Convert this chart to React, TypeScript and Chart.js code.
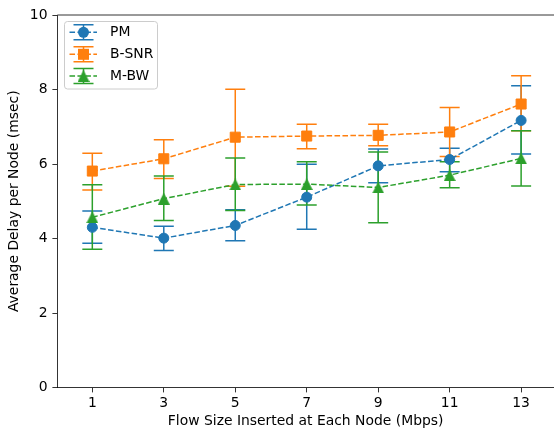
import React, { useEffect, useRef } from "react";
import { Chart, registerables } from "chart.js";

Chart.register(...registerables);

// ---- data ----
const flowSizes = [1, 3, 5, 7, 9, 11, 13];
const xTickValues = [1, 3, 5, 7, 9, 11, 13];
const yTickStep = 2;

const seriesLabels = ["PM", "B-SNR", "M-BW"];
const seriesColors = ["#1f77b4", "#ff7f0e", "#2ca02c"];

const pmMean = [4.3, 4.01, 4.35, 5.11, 5.95, 6.12, 7.17];
const pmLow = [3.87, 3.68, 3.94, 4.25, 5.5, 5.79, 6.27];
const pmHigh = [4.74, 4.33, 4.77, 5.99, 6.4, 6.42, 8.1];

const bsnrMean = [5.81, 6.14, 6.72, 6.75, 6.77, 6.86, 7.61];
const bsnrLow = [5.3, 5.61, 5.4, 6.41, 6.49, 6.2, 6.89];
const bsnrHigh = [6.29, 6.65, 8.01, 7.07, 7.07, 7.52, 8.37];

const mbwMean = [4.57, 5.07, 5.45, 5.46, 5.37, 5.7, 6.15];
const mbwLow = [3.71, 4.48, 4.75, 4.9, 4.42, 5.36, 5.41];
const mbwHigh = [5.44, 5.68, 6.16, 6.06, 6.32, 6.06, 6.89];

const xTitle = "Flow Size Inserted at Each Node (Mbps)";
const yTitle = "Average Delay per Node (msec)";

const FONT = "'DejaVu Sans', 'Liberation Sans', sans-serif";
const FONT_SIZE = 13.9;
const CAP = 10;
const DASH = [5.55, 2.4];

function makeTriangle(color: string, size: number) {
  const c = document.createElement("canvas");
  c.width = size;
  c.height = size;
  const g = c.getContext("2d")!;
  g.fillStyle = color;
  g.beginPath();
  g.moveTo(size / 2, 0);
  g.lineTo(size, size);
  g.lineTo(0, size);
  g.closePath();
  g.fill();
  return c;
}

const errorBarPlugin = {
  id: "errorBars",
  beforeDatasetsDraw(chart: any, _args: any, opts: any) {
    const ctx = chart.ctx;
    const xs = chart.scales.x;
    const ys = chart.scales.y;
    (opts.series || []).forEach((s: any) => {
      ctx.save();
      ctx.strokeStyle = s.color;
      ctx.lineWidth = 1.5;
      ctx.setLineDash([]);
      s.x.forEach((xv: number, j: number) => {
        const x = xs.getPixelForValue(xv);
        const yl = ys.getPixelForValue(s.low[j]);
        const yh = ys.getPixelForValue(s.high[j]);
        ctx.beginPath();
        ctx.moveTo(x, yl);
        ctx.lineTo(x, yh);
        ctx.moveTo(x - CAP, yl);
        ctx.lineTo(x + CAP, yl);
        ctx.moveTo(x - CAP, yh);
        ctx.lineTo(x + CAP, yh);
        ctx.stroke();
      });
      ctx.restore();
    });
  },
  afterDraw(chart: any) {
    const ctx = chart.ctx;
    const a = chart.chartArea;
    ctx.save();
    ctx.strokeStyle = "#000";
    ctx.lineWidth = 0.8;
    ctx.beginPath();
    ctx.moveTo(a.left, a.top);
    ctx.lineTo(a.right, a.top);
    ctx.stroke();
    ctx.restore();
  },
};

const legendPlugin = {
  id: "mplLegend",
  afterDraw(chart: any, _args: any, opts: any) {
    const ctx = chart.ctx;
    const bx = 64.5, by = 21.5, bw = 93, bh = 67.5, r = 3;
    ctx.save();
    ctx.beginPath();
    ctx.moveTo(bx + r, by);
    ctx.lineTo(bx + bw - r, by);
    ctx.quadraticCurveTo(bx + bw, by, bx + bw, by + r);
    ctx.lineTo(bx + bw, by + bh - r);
    ctx.quadraticCurveTo(bx + bw, by + bh, bx + bw - r, by + bh);
    ctx.lineTo(bx + r, by + bh);
    ctx.quadraticCurveTo(bx, by + bh, bx, by + bh - r);
    ctx.lineTo(bx, by + r);
    ctx.quadraticCurveTo(bx, by, bx + r, by);
    ctx.closePath();
    ctx.fillStyle = "rgba(255,255,255,0.8)";
    ctx.fill();
    ctx.strokeStyle = "#cccccc";
    ctx.lineWidth = 1;
    ctx.stroke();

    const rowYs = [32.3, 54.3, 76];
    chart.data.datasets.forEach((ds: any, i: number) => {
      const cy = rowYs[i];
      const cx = 83.5;
      const color = ds.borderColor;
      ctx.strokeStyle = color;
      ctx.lineWidth = 1.5;
      ctx.setLineDash(DASH);
      ctx.beginPath();
      ctx.moveTo(69.5, cy);
      ctx.lineTo(97, cy);
      ctx.stroke();
      ctx.setLineDash([]);
      ctx.beginPath();
      ctx.moveTo(cx, cy - 7.5);
      ctx.lineTo(cx, cy + 7.5);
      ctx.moveTo(cx - CAP, cy - 7.5);
      ctx.lineTo(cx + CAP, cy - 7.5);
      ctx.moveTo(cx - CAP, cy + 7.5);
      ctx.lineTo(cx + CAP, cy + 7.5);
      ctx.stroke();
      ctx.fillStyle = color;
      const m = opts.markers[i];
      if (m === "circle") {
        ctx.beginPath();
        ctx.arc(cx, cy, 5.5, 0, Math.PI * 2);
        ctx.fill();
      } else if (m === "rect") {
        ctx.fillRect(cx - 5.5, cy - 5.5, 11, 11);
      } else {
        ctx.drawImage(m, cx - m.width / 2, cy - m.height / 2);
      }
      ctx.fillStyle = "#000";
      ctx.font = `${FONT_SIZE}px ${FONT}`;
      ctx.textAlign = "left";
      ctx.textBaseline = "middle";
      ctx.fillText(ds.label, 110, cy + 0.5);
    });
    ctx.restore();
  },
};

export default function App() {
  const ref = useRef<HTMLCanvasElement>(null);

  useEffect(() => {
    const tri = makeTriangle(seriesColors[2], 12);
    const means = [pmMean, bsnrMean, mbwMean];
    const lows = [pmLow, bsnrLow, mbwLow];
    const highs = [pmHigh, bsnrHigh, mbwHigh];
    const pointStyles: any[] = ["circle", "rect", tri];
    const radii = [5, 7.1, 6];

    const datasets = seriesLabels.map((label, i) => ({
      label,
      data: flowSizes.map((x, j) => ({ x, y: means[i][j] })),
      borderColor: seriesColors[i],
      backgroundColor: seriesColors[i],
      pointBackgroundColor: seriesColors[i],
      pointBorderColor: seriesColors[i],
      pointBorderWidth: 1,
      pointStyle: pointStyles[i],
      pointRadius: radii[i],
      pointHoverRadius: radii[i],
      borderWidth: 1.5,
      borderDash: DASH,
      tension: 0,
      fill: false,
      showLine: true,
      order: 3 - i,
    }));

    const tickFont = { family: FONT, size: FONT_SIZE };

    const chart = new Chart(ref.current!, {
      type: "line",
      data: { datasets },
      plugins: [errorBarPlugin, legendPlugin],
      options: {
        responsive: false,
        animation: false,
        layout: { autoPadding: false, padding: { top: 15, right: 0, left: 0, bottom: 0 } },
        plugins: {
          legend: { display: false },
          tooltip: { enabled: false },
          errorBars: {
            series: seriesLabels.map((_, i) => ({
              x: flowSizes,
              low: lows[i],
              high: highs[i],
              color: seriesColors[i],
            })),
          },
          mplLegend: { markers: pointStyles },
        } as any,
        scales: {
          x: {
            type: "linear",
            min: 0.02,
            max: 13.92,
            afterBuildTicks: (scale: any) => {
              scale.ticks = xTickValues.map((v) => ({ value: v }));
            },
            afterFit: (scale: any) => {
              scale.height = 431 - 387.5;
              scale.paddingLeft = 0;
              scale.paddingRight = 0;
            },
            ticks: {
              font: tickFont,
              color: "#000",
              padding: 3,
              autoSkip: false,
              maxRotation: 0,
              callback: (v: any) => String(v),
            },
            grid: {
              drawOnChartArea: false,
              drawTicks: true,
              tickLength: 4.9,
              tickWidth: 0.8,
              tickColor: "#000",
            },
            border: { color: "#000", width: 0.8 },
            title: {
              display: true,
              text: xTitle,
              font: tickFont,
              color: "#000",
              padding: { top: 0, bottom: 1.5 },
            },
          },
          y: {
            type: "linear",
            min: 0,
            max: 10,
            afterFit: (scale: any) => {
              scale.width = 57.3;
              scale.paddingTop = 0;
              scale.paddingBottom = 0;
            },
            ticks: {
              stepSize: yTickStep,
              font: tickFont,
              color: "#000",
              padding: 4.9,
            },
            grid: {
              drawOnChartArea: false,
              drawTicks: true,
              tickLength: 4.9,
              tickWidth: 0.8,
              tickColor: "#000",
            },
            border: { color: "#000", width: 0.8 },
            title: {
              display: true,
              text: yTitle,
              font: tickFont,
              color: "#000",
              padding: { top: 6.5, bottom: 0 },
            },
          },
        },
      },
    });
    return () => chart.destroy();
  }, []);

  return (
    <div style={{ position: "absolute", left: 0, top: 0, width: 554, height: 431 }}>
      <canvas ref={ref} width={554} height={431} />
    </div>
  );
}
